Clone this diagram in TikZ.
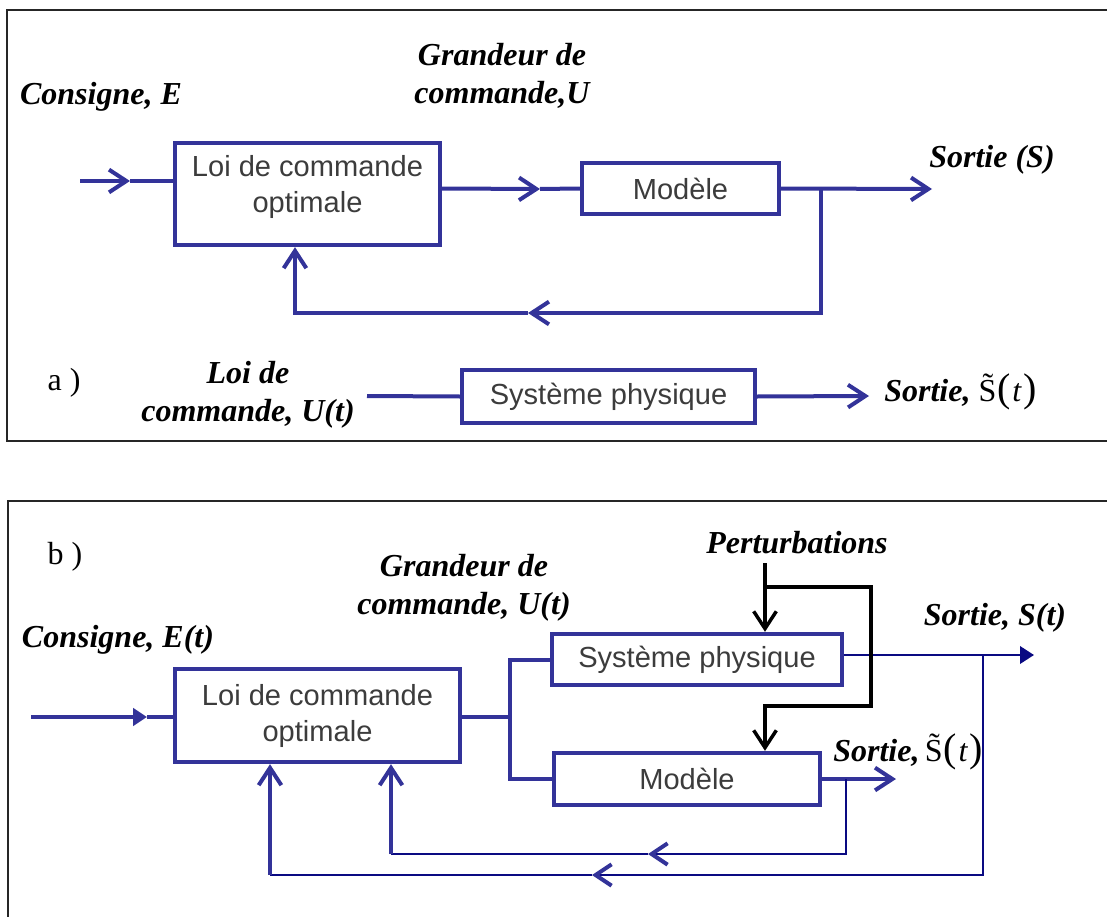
\documentclass[tikz,border=0pt]{standalone}
\usepackage{fontspec}
\setmainfont{Liberation Serif}
\newfontfamily\arialfont{Liberation Sans}
\usetikzlibrary{arrows.meta,calc}
\definecolor{boxblue}{RGB}{51,51,153}
\definecolor{navyline}{RGB}{10,10,130}
\definecolor{boxgray}{RGB}{60,60,60}
\newcommand\tildeSt{\mbox{\mdseries\upshape S̃\kern1pt{\fontsize{30}{30}\selectfont(}\kern1pt\textit{t}\kern1pt{\fontsize{30}{30}\selectfont)}}}
\begin{document}
\begin{tikzpicture}[x=0.75pt,y=-0.75pt,
  blockbox/.style={draw=boxblue,line width=3.3pt,fill=white,inner sep=0pt,
    font=\arialfont\fontsize{21.8}{27}\selectfont,text=boxgray,align=center},
  conn/.style={draw=boxblue,line width=3pt},
  thinconn/.style={draw=navyline,line width=2pt},
  blackconn/.style={draw=black,line width=2.6pt},
  vhead/.style={-{Straight Barb[length=13pt,width=17pt]}},
  bluevhead/.style={-{Straight Barb[length=12pt,width=16pt,color=boxblue,line width=3pt]}},
  thead/.style={-{Triangle[length=10.5pt,width=13pt]}},
  lbl/.style={font=\fontsize{24}{28.5}\selectfont\bfseries\itshape,align=center,inner sep=0pt},
  plainlbl/.style={font=\fontsize{24}{28.5}\selectfont,inner sep=0pt},
  framebox/.style={draw=black!85,line width=1.6pt}
]
\useasboundingbox (0,0) rectangle (1107,917);
\fill[white] (0,0) rectangle (1107,917);

% ---------- frames ----------
\coordinate (fa1) at (1107,10); \coordinate (fa2) at (7,10);
\coordinate (fa3) at (7,441);   \coordinate (fa4) at (1107,441);
\draw[framebox] (fa1) -- (fa2) -- (fa3) -- (fa4);
\coordinate (fb1) at (1107,501); \coordinate (fb2) at (8,501);
\coordinate (fb3) at (8,917);
\draw[framebox] (fb1) -- (fb2) -- (fb3);

% ================= panel a =================
\node[blockbox,minimum width=198.75pt,minimum height=76.5pt] (B1) at (307.5,194) {\raisebox{0pt}[0pt][0pt]{\begin{tabular}{@{}c@{}}Loi de commande\\optimale\end{tabular}}};
\node[blockbox,minimum width=147.75pt,minimum height=38.25pt] (M1) at (680.5,188.5) {Modèle};
\node[blockbox,minimum width=219.75pt,minimum height=39.75pt] (S1) at (608.5,396.5) {Système physique};

\node[lbl] (consA) at (101,97) {Consigne, E};
\node[lbl] (grandA) at (502,76) {Grandeur de\\commande,U};
\node[lbl] (sortA) at (992,160) {Sortie (S)};
\node[plainlbl] (labA) at (64,383) {a )};
\node[lbl] (loiA) at (248,395) {Loi de\\commande, U(t)};
\node[lbl,anchor=west] (sortA2) at (884,392) {Sortie,\ \tildeSt};

\coordinate (inA) at (80,181);
\coordinate (inAm) at (130,181);
\draw[conn,vhead] (inA) -- (inAm);
\draw[conn] (inAm) -- (inA -| B1.west);

\coordinate (midA) at (540,189);
\draw[conn,vhead] (B1.east |- M1.west) -- (midA);
\draw[conn] (midA) -- (M1.west);

\coordinate (outA) at (932,189);
\draw[conn,vhead] (M1.east) -- (outA);
\coordinate (brA) at (821,189);
\coordinate (fbA) at (528,313);
\coordinate (fbB) at (295,313);
\draw[conn,vhead] (brA) |- (fbA);
\draw[conn,vhead] (fbA) -- (fbB) -- (fbB |- B1.south);

\coordinate (uA) at (367,396);
\draw[conn] (uA) -- (S1.west);
\coordinate (outA2) at (869,396);
\draw[conn,vhead] (S1.east) -- (outA2);

% ================= panel b =================
\node[blockbox,minimum width=213.75pt,minimum height=69.75pt] (B2) at (317.5,715.5) {Loi de commande\\optimale};
\node[blockbox,minimum width=217.5pt,minimum height=38.25pt] (S2) at (697,659.5) {Système physique};
\node[blockbox,minimum width=199.5pt,minimum height=39pt] (M2) at (687,779) {Modèle};

\node[plainlbl] (labB) at (65,557) {b )};
\node[lbl] (consB) at (118,640) {Consigne, E(t)};
\node[lbl] (grandB) at (464,588) {Grandeur de\\commande, U(t)};
\node[lbl] (pert) at (797,543) {Perturbations};
\node[lbl] (sortB) at (995,618) {Sortie, S(t)};
\node[lbl,anchor=west] (sortB2) at (833,752) {Sortie,\,\tildeSt};

% input
\coordinate (inB) at (31,717);
\coordinate (inBm) at (147,717);
\draw[conn,thead] (inB) -- (inBm);
\draw[conn] (inBm) -- (inB -| B2.west);

% split to system and model
\coordinate (sp) at (510,717);
\draw[conn] (B2.east |- sp) -- (sp);
\draw[conn] (sp) |- (S2.west);
\draw[conn] (sp) |- (M2.west);

% system output and outer feedback
\coordinate (outB) at (1034,655);
\draw[thinconn,thead] (S2.east |- outB) -- (outB);
\coordinate (brB) at (983,655);
\coordinate (fbC) at (592,875);
\coordinate (fbD) at (270,875);
\draw[thinconn,bluevhead] (brB) |- (fbC);
\draw[thinconn] (fbC) -- (fbD);
\draw[conn,vhead] (fbD) -- (fbD |- B2.south);

% model output and inner feedback
\coordinate (outC) at (896,779);
\draw[conn,vhead] (M2.east) -- (outC);
\coordinate (brC) at (846,779);
\coordinate (fbE) at (648,854);
\coordinate (fbF) at (391,854);
\draw[thinconn,bluevhead] (brC) |- (fbE);
\draw[thinconn] (fbE) -- (fbF);
\draw[conn,vhead] (fbF) -- (fbF |- B2.south);

% perturbations
\coordinate (pt) at (765,563);
\coordinate (pb) at (765,587);
\coordinate (pr1) at (871,587);
\coordinate (pr2) at (871,706);
\coordinate (pr3) at (765,706);
\draw[blackconn,vhead] (pt) -- (pt |- S2.north);
\draw[blackconn,vhead] (pb) -- (pr1) -- (pr2) -- (pr3) -- (pr3 |- M2.north);
\end{tikzpicture}
\end{document}
